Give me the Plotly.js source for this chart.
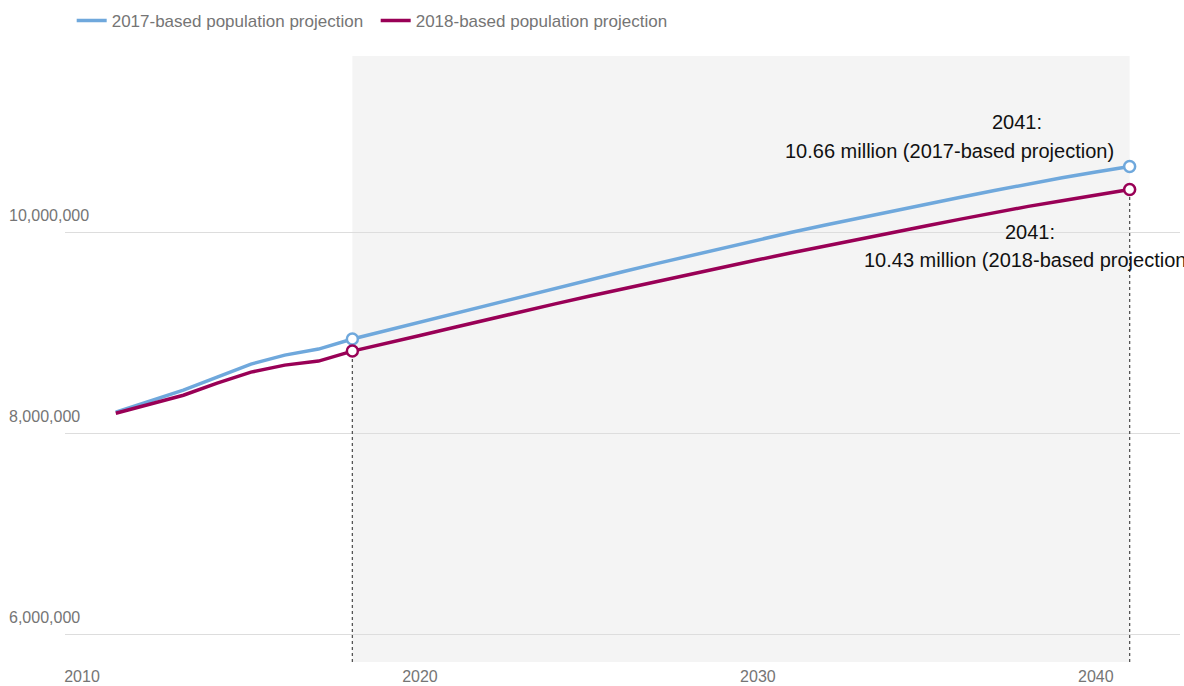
<!DOCTYPE html>
<html>
<head>
<meta charset="utf-8">
<script src="https://cdn.plot.ly/plotly-3.0.1.min.js"></script>
<style>html,body{margin:0;padding:0;background:#fff;}#chart{width:1184px;height:686px;}</style>
</head>
<body>
<div id="chart"></div>
<script>
const years = [2011,2012,2013,2014,2015,2016,2017,2018,2019,2020,2021,2022,2023,2024,2025,2026,2027,2028,2029,2030,2031,2032,2033,2034,2035,2036,2037,2038,2039,2040,2041];
const proj2017 = [8210000,8320000,8430000,8560000,8690000,8780000,8840000,8940000,9025000,9110000,9195000,9280000,9365000,9448000,9530000,9611000,9692000,9772000,9851000,9930000,10004000,10077000,10148000,10218000,10287000,10354000,10420000,10485000,10548000,10605000,10660000];
const proj2018 = [8200000,8290000,8380000,8500000,8610000,8680000,8720000,8820000,8895000,8975000,9055000,9135000,9213000,9290000,9366000,9440000,9514000,9587000,9659000,9730000,9800000,9869000,9937000,10004000,10070000,10135000,10199000,10262000,10318000,10375000,10430000];
const seriesNames = ['2017-based population projection','2018-based population projection'];
const seriesColors = ['#6fa8dc','#990056'];
const markerYears = [2018, 2041];
const shadeYears = [2018, 2041];
const xTicks = [2010, 2020, 2030, 2040];
const yTicks = [6000000, 8000000, 10000000];
const yTickText = ['6,000,000', '8,000,000', '10,000,000'];
const labelYear = ['2041:', '2041:'];
const labelText = ['10.66 million (2017-based projection)', '10.43 million (2018-based projection)'];

const xRange = [2009.497, 2042.49];
const yRange = [5721000, 11761000];
const FONT = 'Liberation Sans, Arial, sans-serif';

const allSeries = [proj2017, proj2018];
const valAt = (s, yr) => s[years.indexOf(yr)];

const traces = [];
allSeries.forEach((s, i) => {
  traces.push({
    x: years, y: s, type: 'scatter', mode: 'lines', name: seriesNames[i],
    line: {color: seriesColors[i], width: 3.5}, hoverinfo: 'x+y'
  });
});
allSeries.forEach((s, i) => {
  traces.push({
    x: markerYears, y: markerYears.map(yr => valAt(s, yr)), type: 'scatter', mode: 'markers',
    showlegend: false, hoverinfo: 'skip',
    marker: {symbol: 'circle', size: 11, color: '#ffffff', line: {color: seriesColors[i], width: 2.5}}
  });
});

const shapes = [{
  type: 'rect', xref: 'x', yref: 'paper', x0: shadeYears[0], x1: shadeYears[1], y0: 0, y1: 1,
  fillcolor: '#f4f4f4', line: {width: 0}, layer: 'below'
}];
markerYears.forEach(yr => {
  const low = Math.min(...allSeries.map(s => valAt(s, yr)));
  shapes.push({
    type: 'line', xref: 'x', yref: 'y', x0: yr, x1: yr, y0: yRange[0], y1: low,
    line: {color: '#555', width: 1.3, dash: 'dot'}, layer: 'between'
  });
});

const annShifts = [
  [{xanchor: 'center', xshift: -113, yshift: 44}, {xanchor: 'right', xshift: -14, yshift: 15}],
  [{xanchor: 'center', xshift: -100, yshift: -42}, {xanchor: 'left', xshift: -268, yshift: -70}]
];
const annotations = [];
allSeries.forEach((s, i) => {
  const yv = valAt(s, 2041);
  [labelYear[i], labelText[i]].forEach((t, j) => {
    annotations.push(Object.assign({
      x: 2041, y: yv, xref: 'x', yref: 'y', text: t, showarrow: false, yanchor: 'middle',
      font: {family: FONT, size: 20, color: '#111'}
    }, annShifts[i][j]));
  });
});
// y-axis tick labels, placed above their gridlines at the left edge
yTicks.forEach((v, i) => {
  annotations.push({
    x: 0, xref: 'paper', y: v, yref: 'y', text: yTickText[i], showarrow: false,
    xanchor: 'left', yanchor: 'middle', xshift: -58, yshift: 17,
    font: {family: FONT, size: 16, color: '#757575'}
  });
});

const layout = {
  width: 1184, height: 686,
  margin: {l: 65, r: 4, t: 55, b: 24, pad: 0},
  paper_bgcolor: '#ffffff', plot_bgcolor: '#ffffff',
  font: {family: FONT, size: 16, color: '#757575'},
  showlegend: true,
  legend: {
    orientation: 'h', x: 0.006, xanchor: 'left', y: 1.056, yanchor: 'middle',
    entrywidth: 259,
    font: {family: FONT, size: 17, color: '#757575'}, bgcolor: 'rgba(0,0,0,0)'
  },
  xaxis: {
    range: xRange, tickmode: 'array', tickvals: xTicks, ticktext: xTicks.map(String),
    showgrid: false, zeroline: false, showline: false, ticks: '', ticklabelstandoff: 3,
    tickfont: {family: FONT, size: 16, color: '#757575'}, fixedrange: true
  },
  yaxis: {
    range: yRange, tickmode: 'array', tickvals: yTicks, showticklabels: false,
    showgrid: true, gridcolor: '#dddddd', gridwidth: 1, zeroline: false, showline: false, ticks: '',
    fixedrange: true
  },
  shapes: shapes,
  annotations: annotations
};

Plotly.newPlot('chart', traces, layout, {displayModeBar: false, staticPlot: true});
</script>
</body>
</html>
